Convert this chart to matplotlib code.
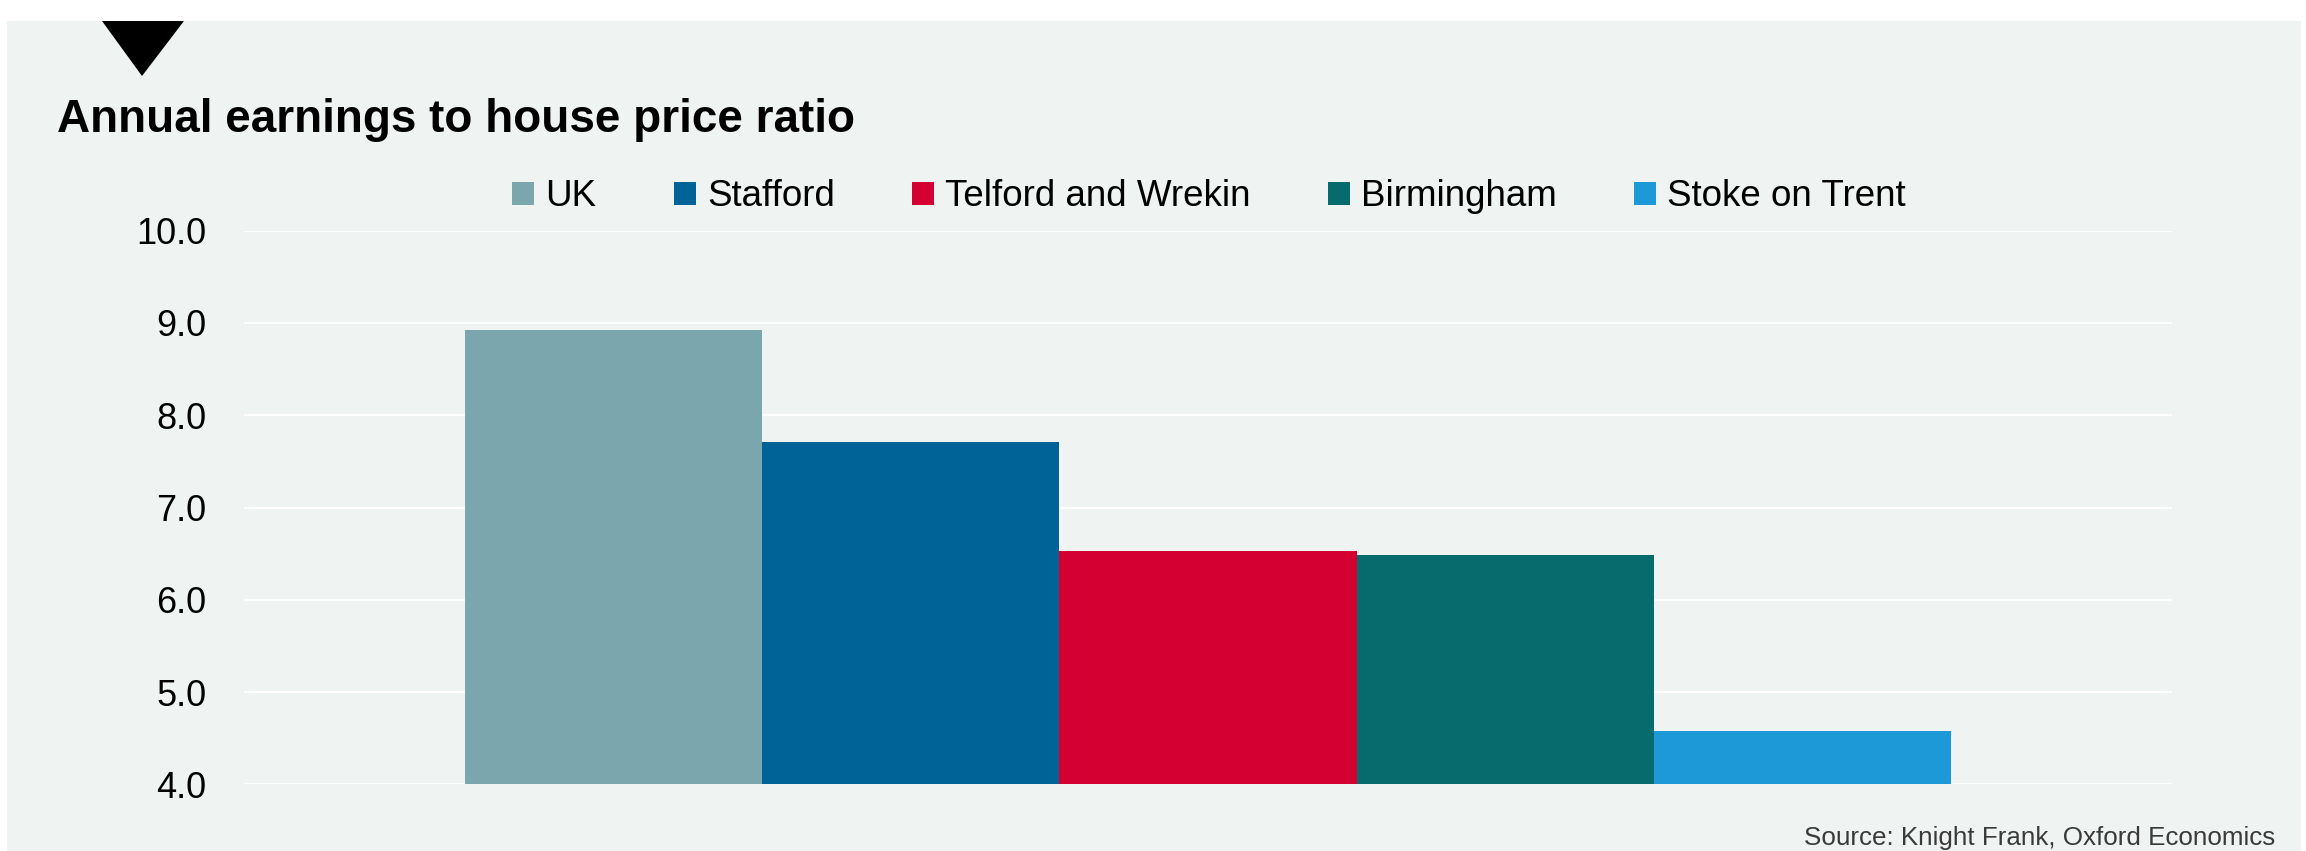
import matplotlib
matplotlib.use("Agg")
import matplotlib.pyplot as plt
from matplotlib.patches import Rectangle, Polygon, Patch

# Annual earnings to house price ratio by area
areas = ["UK", "Stafford", "Telford and Wrekin", "Birmingham", "Stoke on Trent"]
ratios = [8.92, 7.71, 6.53, 6.49, 4.58]
colours = ["#7BA6AD", "#006398", "#D50032", "#076A6C", "#1C99D6"]
y_ticks = [4.0, 5.0, 6.0, 7.0, 8.0, 9.0, 10.0]

W, H = 2306, 851
DPI = 100
FONT = ["Liberation Sans", "DejaVu Sans"]


def fx(px):
    return px / W


def fy(py):
    # pixel rows counted from the top
    return 1 - py / H


fig = plt.figure(figsize=(W / DPI, H / DPI), dpi=DPI, facecolor="white")

# light panel behind everything
fig.patches.append(Rectangle((fx(7), 0), fx(2301) - fx(7), fy(21),
                             transform=fig.transFigure, facecolor="#EFF3F2",
                             edgecolor="none", zorder=-5))
# marker triangle at the top of the panel
fig.patches.append(Polygon([(fx(102), fy(21)), (fx(184), fy(21)), (fx(142), fy(76))],
                           closed=True, transform=fig.transFigure,
                           facecolor="black", edgecolor="none", zorder=-4))

ax = fig.add_axes([fx(244), 1 - 784.4 / H, fx(2172) - fx(244), (784.4 - 230.6) / H])
ax.set_zorder(1)
ax.set_facecolor("none")

positions = list(range(len(areas)))
ax.bar(positions, ratios, width=1.0, bottom=0, color=colours, zorder=2)

ax.set_ylim(4, 10)
ax.set_xlim(-1.245, 5.245)
ax.set_yticks(y_ticks)
ax.set_yticklabels([f"{v:.1f}" for v in y_ticks], family=FONT, fontsize=26)
ax.set_xticks([])
ax.tick_params(axis="y", length=0, pad=27, colors="black")
ax.grid(axis="y", color="white", linewidth=1.6, zorder=1)
ax.set_axisbelow(True)
for side in ax.spines.values():
    side.set_visible(False)

fig.text(fx(57), fy(132), "Annual earnings to house price ratio",
         family=FONT, fontweight="bold", fontsize=33, va="baseline", ha="left")

handles = [Patch(facecolor=c, edgecolor="none") for c in colours]
fig.legend(handles, areas, loc="center", bbox_to_anchor=(fx(1209), fy(197)),
           ncol=5, frameon=False, prop={"family": FONT, "size": 26.5},
           handlelength=0.6, handleheight=0.6, handletextpad=0.3,
           columnspacing=2.1, borderpad=0, borderaxespad=0)

fig.text(fx(2275), fy(845), "Source: Knight Frank, Oxford Economics",
         family=FONT, fontsize=18.7, color="#3A3A3A", ha="right", va="baseline")

fig.savefig("out.png", dpi=DPI, facecolor="white")
